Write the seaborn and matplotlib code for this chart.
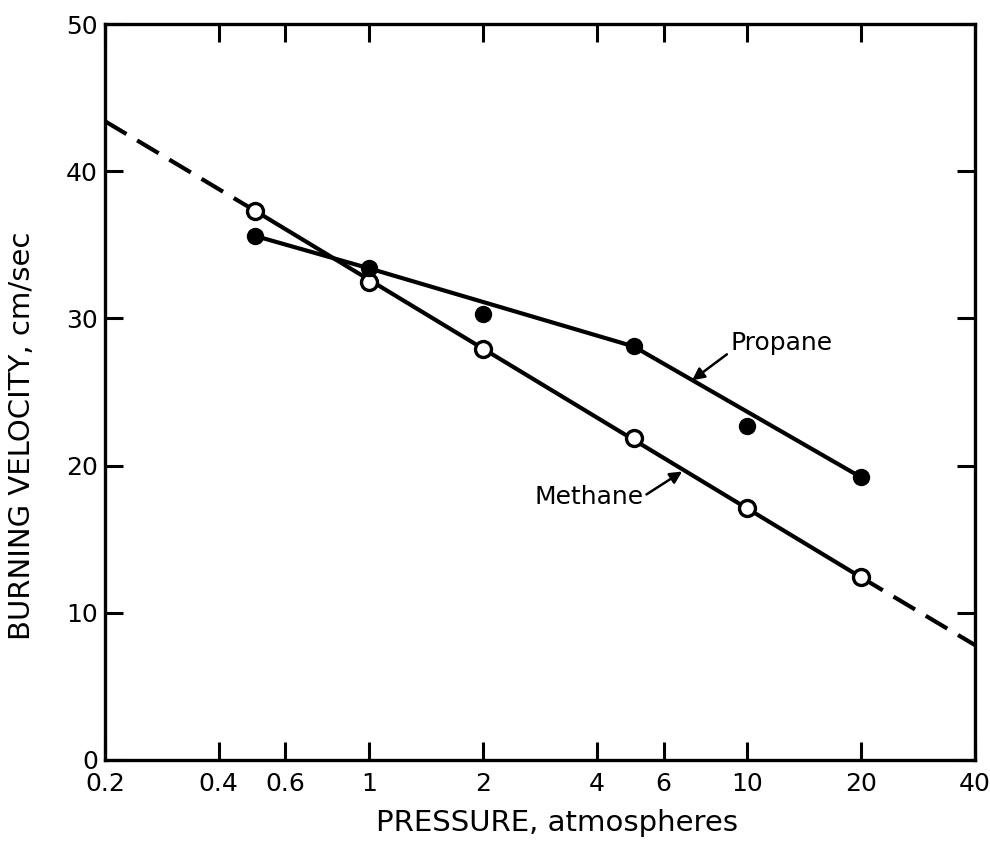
"""Burning velocity vs pressure for methane and propane flames."""

import matplotlib
matplotlib.use("Agg")
import matplotlib.pyplot as plt
import matplotlib.ticker as mticker
import seaborn as sns

# measured points
pressure = [0.5, 1, 2, 5, 10, 20]
methane_v = [37.3, 32.5, 27.9, 21.9, 17.1, 12.4]
propane_v = [35.6, 33.4, 30.3, 28.1, 22.7, 19.2]

# drawn curves
propane_line_p = [0.5, 1, 5, 20]
propane_line_v = [35.6, 33.4, 28.1, 19.2]
methane_fit_p = [0.2, 0.5, 20, 40]
methane_fit_v = [43.4, 37.3, 12.4, 7.8]

x_ticks = [0.2, 0.4, 0.6, 1, 2, 4, 6, 10, 20, 40]
x_tick_labels = ["0.2", "0.4", "0.6", "1", "2", "4", "6", "10", "20", "40"]
y_ticks = [0, 10, 20, 30, 40, 50]

sns.set_theme(style="ticks")
plt.rcParams["font.family"] = ["DejaVu Sans"]
plt.rcParams["text.color"] = "black"
plt.rcParams["axes.labelcolor"] = "black"

fig = plt.figure(figsize=(9.9, 8.42), dpi=100)
ax = fig.add_axes([0.106, 0.0974, 0.879, 0.874])

lw = 3
dash = (0, (6, 3))
# methane fit: dashed extrapolations, solid in the measured range
sns.lineplot(x=methane_fit_p[:2], y=methane_fit_v[:2], color="black", lw=lw,
             ax=ax, linestyle=dash)
sns.lineplot(x=methane_fit_p[1:3], y=methane_fit_v[1:3], color="black", lw=lw, ax=ax)
sns.lineplot(x=methane_fit_p[2:], y=methane_fit_v[2:], color="black", lw=lw,
             ax=ax, linestyle=dash)
sns.lineplot(x=propane_line_p, y=propane_line_v, color="black", lw=lw, sort=False, ax=ax)

ax.plot(pressure, methane_v, "o", ms=11.5, mfc="white", mec="black", mew=2.4, zorder=5)
ax.plot(pressure, propane_v, "o", ms=11.5, mfc="black", mec="black", mew=1, zorder=5)

ax.set_xscale("log")
ax.set_xlim(0.2, 40)
ax.set_ylim(0, 50)
ax.xaxis.set_major_locator(mticker.FixedLocator(x_ticks))
ax.xaxis.set_major_formatter(mticker.FixedFormatter(x_tick_labels))
ax.xaxis.set_minor_locator(mticker.NullLocator())
ax.set_yticks(y_ticks)

for side in ax.spines.values():
    side.set_linewidth(2.4)
    side.set_color("black")
ax.tick_params(which="major", direction="in", length=13, width=2.2,
               top=True, right=True, labelsize=18, colors="black")
ax.tick_params(axis="x", pad=9)
ax.tick_params(axis="y", pad=5)

ax.set_xlabel("PRESSURE, atmospheres", fontsize=21, va="center")
ax.set_ylabel("BURNING VELOCITY, cm/sec", fontsize=21, va="center")
ax.xaxis.set_label_coords(0.52, -0.085)
ax.yaxis.set_label_coords(-0.095, 0.44)

arrow = dict(arrowstyle="-|>", color="black", lw=1.8, mutation_scale=18,
             shrinkA=0, shrinkB=0)
ax.annotate("Propane", xy=(7.14, 25.8), xytext=(9.0, 28.3), fontsize=18,
            ha="left", va="center",
            arrowprops=dict(arrow, relpos=(0.0, 0.15)))
ax.annotate("Methane", xy=(6.72, 19.6), xytext=(5.3, 17.9), fontsize=18,
            ha="right", va="center",
            arrowprops=dict(arrow, relpos=(1.0, 0.5)))

fig.savefig("out.png", dpi=100)
